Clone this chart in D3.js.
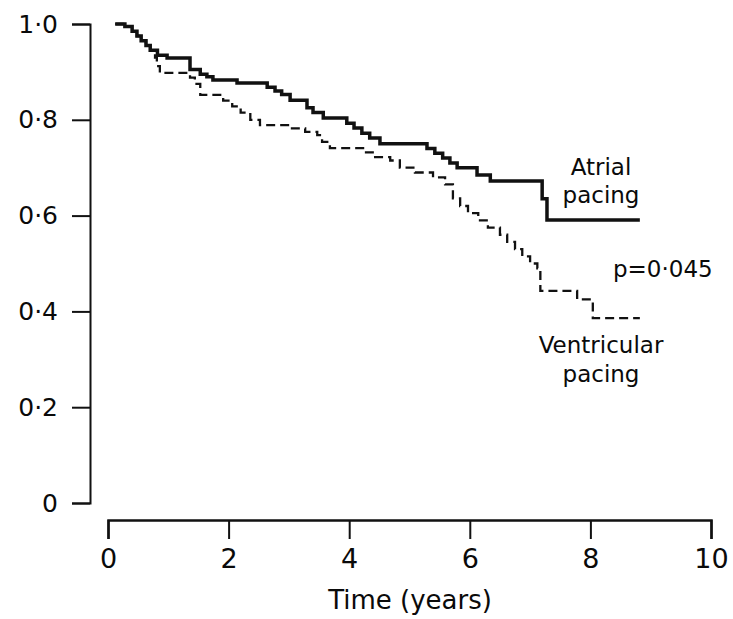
<!DOCTYPE html>
<html>
<head>
<meta charset="utf-8">
<script src="https://cdn.jsdelivr.net/npm/d3@7"></script>
<style>
  html, body { margin: 0; padding: 0; background: #fff; }
  svg { display: block; }
  text { font-family: "DejaVu Sans", sans-serif; fill: #0a0a0a; }
</style>
</head>
<body>
<svg id="chart" width="733" height="619"></svg>
<script>
// ---- data (time in years, cumulative survival) ----
const xTicks = [0, 2, 4, 6, 8, 10];
const yTicks = [0, 0.2, 0.4, 0.6, 0.8, 1.0];

const atrialTime = [0.12, 0.28, 0.40, 0.48, 0.55, 0.63, 0.70, 0.82, 0.98, 1.36, 1.53, 1.64, 1.74, 2.14, 2.64, 2.77, 2.88, 3.02, 3.30, 3.40, 3.57, 3.96, 4.08, 4.21, 4.34, 4.51, 5.29, 5.42, 5.55, 5.67, 5.79, 6.12, 6.34, 7.20, 7.28, 8.82];
const atrialSurv = [1.000, 0.995, 0.985, 0.975, 0.965, 0.955, 0.945, 0.935, 0.929, 0.905, 0.895, 0.890, 0.883, 0.877, 0.868, 0.860, 0.853, 0.841, 0.825, 0.815, 0.804, 0.793, 0.783, 0.772, 0.762, 0.750, 0.740, 0.730, 0.720, 0.710, 0.700, 0.685, 0.672, 0.635, 0.591, 0.591];

const ventTime = [0.12, 0.28, 0.40, 0.48, 0.55, 0.63, 0.70, 0.78, 0.81, 0.86, 1.36, 1.44, 1.53, 1.91, 2.06, 2.20, 2.36, 2.52, 3.02, 3.27, 3.47, 3.55, 3.68, 4.23, 4.43, 4.68, 4.84, 5.09, 5.39, 5.59, 5.72, 5.84, 5.97, 6.14, 6.30, 6.50, 6.62, 6.75, 6.87, 7.00, 7.12, 7.17, 7.78, 8.04, 8.82];
const ventSurv = [1.000, 0.995, 0.985, 0.975, 0.965, 0.955, 0.945, 0.930, 0.912, 0.898, 0.888, 0.875, 0.852, 0.840, 0.828, 0.815, 0.800, 0.789, 0.782, 0.775, 0.768, 0.754, 0.741, 0.732, 0.722, 0.715, 0.700, 0.690, 0.680, 0.665, 0.636, 0.620, 0.605, 0.590, 0.575, 0.560, 0.545, 0.530, 0.515, 0.500, 0.490, 0.443, 0.425, 0.386, 0.386];

const xLabel = "Time (years)";
const atrialLabel = ["Atrial", "pacing"];
const ventLabel = ["Ventricular", "pacing"];
const pLabel = "p=0·045";

// ---- drawing ----
const svg = d3.select("#chart");
const x = d3.scaleLinear().domain([0, 10]).range([108, 711]);
const y = d3.scaleLinear().domain([0, 1]).range([503, 24]);

const fmtY = d => d === 0 ? "0" : d.toFixed(1).replace(".", "·");

// y axis
const gy = svg.append("g").attr("transform", "translate(90,0)")
  .call(d3.axisLeft(y).tickValues(yTicks).tickFormat(fmtY).tickSize(18).tickPadding(14));
gy.select(".domain").attr("stroke", "#111").attr("stroke-width", 2);
gy.selectAll(".tick line").attr("stroke", "#111").attr("stroke-width", 2);
gy.selectAll(".tick text").style("font-size", "25px").attr("fill", "#0a0a0a");

// x axis
const gx = svg.append("g").attr("transform", "translate(0,520)")
  .call(d3.axisBottom(x).tickValues(xTicks).tickFormat(d3.format("d")).tickSize(19).tickPadding(10));
gx.select(".domain").attr("stroke", "#111").attr("stroke-width", 2.5);
gx.selectAll(".tick line").attr("stroke", "#111").attr("stroke-width", 2);
gx.selectAll(".tick text").style("font-size", "27px").attr("fill", "#0a0a0a");

svg.selectAll(".tick text").style("font-family", "'DejaVu Sans', sans-serif");

svg.append("text")
  .attr("x", 410).attr("y", 609)
  .attr("text-anchor", "middle")
  .style("font-size", "26px")
  .text(xLabel);

// curves
const line = d3.line().curve(d3.curveStepAfter).x(d => x(d[0])).y(d => y(d[1]));
const ventData = ventTime.map((t, i) => [t, ventSurv[i]]);
const atrialData = atrialTime.map((t, i) => [t, atrialSurv[i]]);

svg.append("path").datum(ventData)
  .attr("d", line).attr("fill", "none")
  .attr("stroke", "#111").attr("stroke-width", 2.3)
  .attr("stroke-dasharray", "9,5");

svg.append("path").datum(atrialData)
  .attr("d", line).attr("fill", "none")
  .attr("stroke", "#111").attr("stroke-width", 3.5);

// annotations
function multiLine(lines, cx, baselines) {
  lines.forEach((s, i) => {
    svg.append("text").attr("x", cx).attr("y", baselines[i])
      .attr("text-anchor", "middle").style("font-size", "23px").text(s);
  });
}
multiLine(atrialLabel, 601, [175, 203]);
multiLine(ventLabel, 601, [353, 382]);

svg.append("text").attr("x", 613).attr("y", 277)
  .style("font-size", "23px").text(pLabel);
</script>
</body>
</html>
